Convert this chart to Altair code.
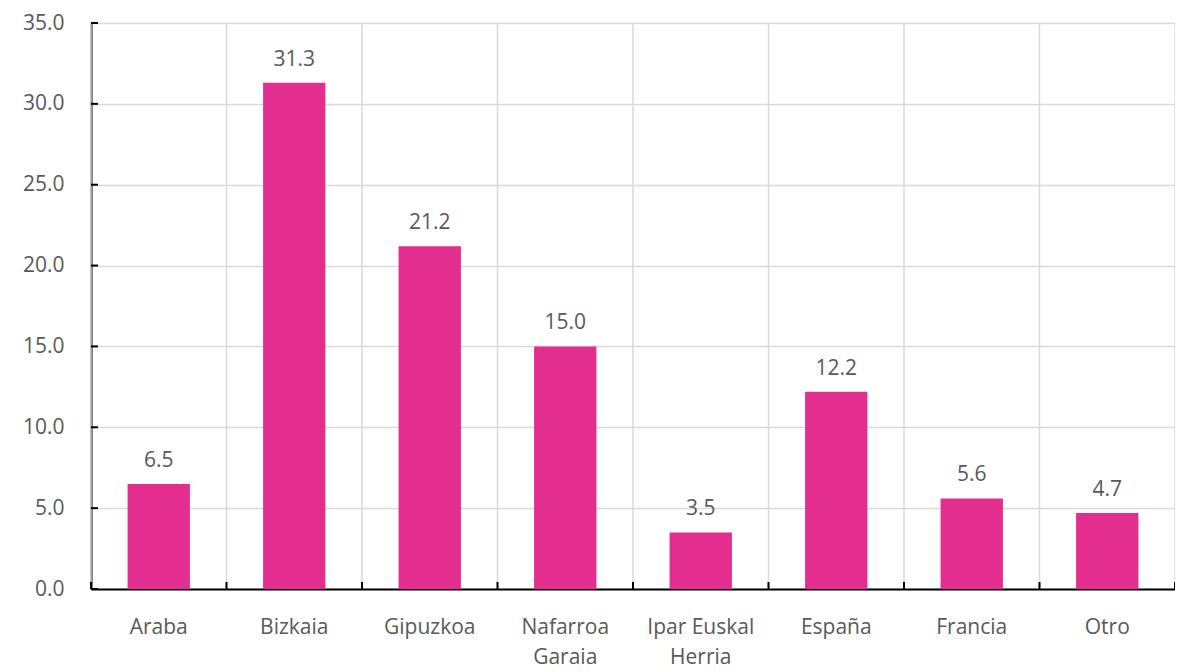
import altair as alt
import pandas as pd

categories = ["Araba", "Bizkaia", "Gipuzkoa", "Nafarroa\nGaraia", "Ipar Euskal\nHerria",
              "España", "Francia", "Otro"]
values = [6.5, 31.3, 21.2, 15.0, 3.5, 12.2, 5.6, 4.7]
y_ticks = [0, 5, 10, 15, 20, 25, 30, 35]
boundaries = list(range(len(categories) + 1))

W, H = 1084, 566
FONT = "Open Sans"
FS = 21
TXT = "#595959"
PINK = "#E32E8F"
GRID = "#D9D9D9"

df = pd.DataFrame({"cat": categories, "val": values})
df_y = pd.DataFrame({"v": y_ticks})
df_b = pd.DataFrame({"b": boundaries})

xscale = alt.Scale(domain=categories, paddingInner=0.54, paddingOuter=0.27)
yscale = alt.Scale(domain=[0, 35], nice=False)

xaxis = alt.Axis(labelAngle=0, labelFont=FONT, labelFontSize=FS,
                 labelColor=TXT, labelPadding=27, labelLineHeight=30,
                 labelExpr="split(datum.label, '\\n')",
                 ticks=False, grid=False,
                 domainColor="black", domainWidth=2)
yaxis = alt.Axis(values=y_ticks, format=".1f", labelFont=FONT,
                 labelFontSize=FS, labelColor=TXT, labelPadding=27,
                 ticks=False, grid=True, gridColor=GRID, gridWidth=1.5,
                 domainColor="black", domainWidth=2)

bars = alt.Chart(df).mark_bar(color=PINK).encode(
    x=alt.X("cat:N", sort=categories, scale=xscale, title=None, axis=xaxis),
    y=alt.Y("val:Q", scale=yscale, title=None, axis=yaxis),
)

labels = alt.Chart(df).mark_text(font=FONT, fontSize=FS, color=TXT,
                                 baseline="bottom", dy=-13).encode(
    x=alt.X("cat:N", sort=categories, scale=xscale, title=None, axis=xaxis),
    y=alt.Y("val:Q", scale=yscale, title=None, axis=yaxis),
    text=alt.Text("val:Q", format=".1f"),
)

yt = alt.Chart(df_y).mark_rule(color="black", strokeWidth=2).encode(
    y=alt.Y("v:Q", scale=yscale, title=None, axis=yaxis),
    x=alt.value(0), x2=alt.value(7),
)

bscale = alt.Scale(domain=[0, len(categories)], nice=False)

vgrid = alt.Chart(df_b).mark_rule(color=GRID, strokeWidth=1.5).encode(
    x=alt.X("b:Q", scale=bscale, axis=None),
    y=alt.value(0), y2=alt.value(H),
)

xt = alt.Chart(df_b).mark_rule(color="black", strokeWidth=2).encode(
    x=alt.X("b:Q", scale=bscale, axis=None),
    y=alt.value(H - 7), y2=alt.value(H),
)

main = alt.layer(bars, labels, yt)
chart = alt.layer(vgrid, main, xt).resolve_scale(x="independent").properties(
    width=W, height=H,
    autosize=alt.AutoSizeParams(type="none"),
    padding={"left": 83, "top": 15, "right": 0, "bottom": 83},
).configure_view(stroke=None).configure(background="white")

chart.save("out.html", embed_options={"renderer": "svg", "actions": False})
